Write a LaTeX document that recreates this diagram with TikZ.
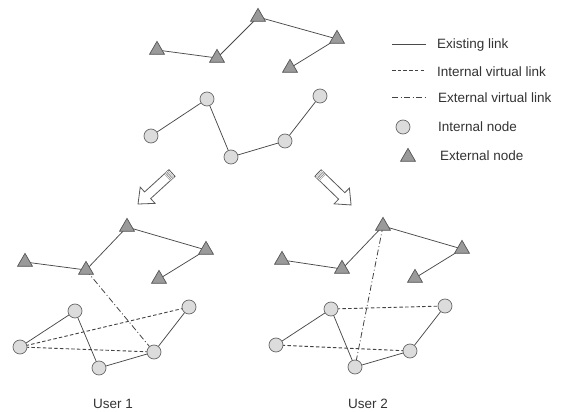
\documentclass[tikz,border=0pt]{standalone}
\usepackage{fontspec}
\setmainfont{Liberation Sans}
\usetikzlibrary{shapes.geometric,backgrounds}
\definecolor{linkgray}{HTML}{4A4A4A}
\definecolor{extfill}{HTML}{9A9A9A}
\definecolor{extdraw}{HTML}{555555}
\definecolor{intfill}{HTML}{DCDCDC}
\definecolor{intdraw}{HTML}{686868}
\definecolor{txtgray}{HTML}{333333}
\tikzset{
  extnode/.style={regular polygon, regular polygon sides=3, minimum size=17.3pt,
    inner sep=0pt, fill=extfill, draw=extdraw, line width=0.7pt},
  intnode/.style={circle, minimum size=14pt, inner sep=0pt, fill=intfill,
    draw=intdraw, line width=0.7pt},
  existlink/.style={draw=linkgray, line width=0.75pt},
  intvlink/.style={draw=linkgray!90!black, line width=0.9pt, dash pattern=on 3.5pt off 2.2pt},
  extvlink/.style={draw=linkgray!90!black, line width=0.8pt, dash pattern=on 6pt off 2.5pt on 1pt off 2.5pt},
  legtext/.style={anchor=west, inner sep=0pt, text=txtgray, font=\fontsize{13.5}{16}\selectfont},
  usertext/.style={inner sep=0pt, text=txtgray, font=\fontsize{13.5}{16}\selectfont},
  hollowarrow/.pic={
    \draw[draw=black!65, line width=0.8pt, fill=white, line join=miter]
      (0,-4.5) -- (33,-4.5) -- (33,-11) -- (46,0) -- (33,11) -- (33,4.5) -- (0,4.5) -- cycle;
    \fill[black!45] (1.5,-4.5) rectangle (6.5,4.5);
    \foreach \u in {2.3,4,5.7} \draw[white, line width=0.6pt] (\u,-4.5) -- (\u,4.5);
  }
}
\begin{document}
\begin{tikzpicture}[x=1pt, y=-1pt]
\useasboundingbox (0,0) rectangle (571,412);

% ---- original network ----
\node[extnode] (t1) at (157,50) {};
\node[extnode] (t2) at (217,58) {};
\node[extnode] (t3) at (258,17) {};
\node[extnode] (t4) at (337,39) {};
\node[extnode] (t5) at (290,68) {};
\node[intnode] (c1) at (151,136) {};
\node[intnode] (c2) at (207,99) {};
\node[intnode] (c3) at (231,157) {};
\node[intnode] (c4) at (285,141) {};
\node[intnode] (c5) at (320,96) {};

% ---- user 1 ----
\node[extnode] (ua1) at (25,262) {};
\node[extnode] (ua2) at (86,270) {};
\node[extnode] (ua3) at (127,227) {};
\node[extnode] (ua4) at (206,250) {};
\node[extnode] (ua5) at (159,279) {};
\node[intnode] (ia1) at (20,347) {};
\node[intnode] (ia2) at (75,311) {};
\node[intnode] (ia3) at (99,368) {};
\node[intnode] (ia4) at (154,352) {};
\node[intnode] (ia5) at (189,307) {};

% ---- user 2 ----
\node[extnode] (ub1) at (282,260) {};
\node[extnode] (ub2) at (342,269) {};
\node[extnode] (ub3) at (383,226) {};
\node[extnode] (ub4) at (462,249) {};
\node[extnode] (ub5) at (415,278) {};
\node[intnode] (ib1) at (276,345) {};
\node[intnode] (ib2) at (331,309) {};
\node[intnode] (ib3) at (355,367) {};
\node[intnode] (ib4) at (410,351) {};
\node[intnode] (ib5) at (445,306) {};

\begin{scope}[on background layer]
  \foreach \p in {t,ua,ub} {
    \path[existlink] (\p1.center) -- (\p2.center) -- (\p3.center) -- (\p4.center) -- (\p5.center);
  }
  \foreach \p in {c,ia,ib} {
    \path[existlink] (\p1.center) -- (\p2.center) -- (\p3.center) -- (\p4.center) -- (\p5.center);
  }
  % virtual links of user 1
  \path[intvlink] (ia1.center) -- (ia5.center);
  \path[intvlink] (ia1.center) -- (ia4.center);
  \path[extvlink] (ua2.center) -- (ia4.center);
  % virtual links of user 2
  \path[intvlink] (ib2.center) -- (ib5.center);
  \path[intvlink] (ib1.center) -- (ib4.center);
  \path[extvlink] (ub3.center) -- (ib3.center);
\end{scope}

% ---- split arrows ----
\pic[rotate=222.4] at (172,173) {hollowarrow};
\pic[rotate=-44] at (318,173) {hollowarrow};

% ---- legend ----
\coordinate (l1a) at (392,44);  \coordinate (l1b) at (426,44);
\coordinate (l2a) at (392,70);  \coordinate (l2b) at (426,70);
\coordinate (l3a) at (392,97);  \coordinate (l3b) at (426,97);
\draw[existlink] (l1a) -- (l1b);
\draw[intvlink, line width=0.7pt] (l2a) -- (l2b);
\draw[extvlink, line width=0.7pt] (l3a) -- (l3b);
\node[intnode] (lint) at (403,127) {};
\node[extnode] (lext) at (408,157) {};
\node[legtext] (k1) at (437,45) {Existing link};
\node[legtext] (k2) at (437,72) {Internal virtual link};
\node[legtext] (k3) at (438,98) {External virtual link};
\node[legtext] (k4) at (438,127) {Internal node};
\node[legtext] (k5) at (440,156) {External node};

% ---- captions ----
\node[usertext] (cap1) at (113,404) {User 1};
\node[usertext] (cap2) at (368,404) {User 2};
\end{tikzpicture}
\end{document}
